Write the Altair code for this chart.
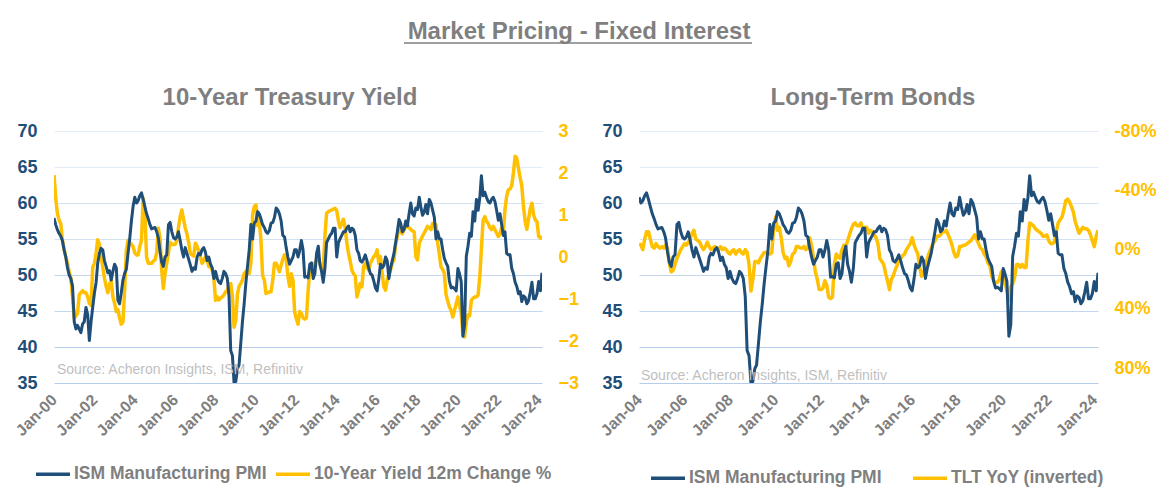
import altair as alt
import pandas as pd

# ---------------- data ----------------
ism_pmi = [
    57.9, 57.0, 56.3, 55.8, 55.4, 54.8, 53.5, 52.5, 51.0, 50.0, 49.5, 48.5,   # 2000
    43.5, 42.5, 43.0, 42.5, 42.0, 43.2, 43.5, 45.5, 44.5, 40.9, 43.5, 45.5,   # 2001
    47.5, 49.0, 51.6, 53.0, 53.7, 53.5, 52.0, 51.2, 50.3, 50.6, 49.3, 50.5,   # 2002
    51.5, 51.0, 46.5, 46.0, 47.5, 49.3, 50.2, 50.8, 53.0, 55.0, 57.5, 59.5,   # 2003
    60.8, 60.0, 60.3, 61.0, 61.4, 60.5, 59.5, 58.5, 57.8, 57.0, 56.4, 56.5,   # 2004
    56.6, 56.0, 55.2, 53.3, 51.8, 51.2, 52.5, 52.8, 57.0, 57.3, 56.0, 55.2,   # 2005
    55.0, 55.3, 56.0, 54.8, 53.5, 52.5, 53.8, 53.0, 52.2, 51.4, 50.5, 51.0,   # 2006
    50.8, 52.5, 53.0, 52.8, 53.5, 53.8, 53.2, 52.0, 52.5, 51.5, 51.0, 49.5,   # 2007
    50.5, 49.5, 49.0, 48.8, 49.5, 50.5, 50.2, 49.5, 47.0, 39.5, 38.8, 35.0,   # 2008
    35.2, 37.0, 37.5, 40.5, 43.5, 46.0, 48.8, 51.2, 53.5, 57.0, 55.0, 57.2,   # 2009
    57.5, 58.8, 58.5, 57.8, 57.0, 56.6, 56.0, 55.8, 56.2, 57.2, 57.3, 58.0,   # 2010
    59.3, 59.0, 58.5, 57.5, 55.5, 55.3, 53.8, 52.5, 51.5, 52.0, 52.5, 53.5,   # 2011
    53.5, 52.5, 53.4, 54.8, 53.5, 49.7, 49.8, 49.6, 51.5, 51.7, 49.5, 50.2,   # 2012
    53.0, 54.0, 51.5, 50.5, 49.0, 50.9, 54.5, 55.0, 55.5, 55.8, 56.5, 56.5,   # 2013
    52.5, 54.5, 55.0, 55.5, 56.0, 56.0, 56.5, 56.8, 56.0, 56.5, 56.3, 55.5,   # 2014
    53.5, 53.0, 52.0, 51.8, 52.2, 52.8, 52.0, 51.0, 50.2, 50.0, 49.2, 48.2,   # 2015
    47.8, 49.5, 51.5, 51.0, 51.3, 52.5, 52.0, 49.5, 51.0, 52.0, 53.0, 54.5,   # 2016
    56.0, 57.7, 57.2, 56.0, 56.3, 57.5, 56.8, 58.5, 60.0, 58.5, 58.2, 59.3,   # 2017
    59.1, 60.8, 59.5, 58.3, 58.7, 59.8, 58.5, 60.5, 60.0, 59.0, 58.0, 55.0,   # 2018
    56.0, 55.0, 55.0, 53.5, 52.3, 51.7, 51.2, 49.1, 48.2, 48.3, 48.1, 47.8,   # 2019
    50.9, 50.1, 49.1, 41.5, 43.1, 52.6, 54.0, 55.8, 55.4, 58.8, 57.5, 60.5,   # 2020
    59.0, 60.8, 63.8, 61.0, 61.5, 60.8, 60.2, 60.0, 60.5, 60.8, 60.2, 59.0,   # 2021
    57.6, 58.5, 57.1, 55.5, 56.0, 53.0, 52.8, 52.8, 50.9, 50.2, 49.0, 48.4,   # 2022
    47.4, 47.7, 46.3, 47.1, 46.9, 46.0, 46.4, 47.6, 49.0, 46.7, 46.7, 47.4,   # 2023
    49.1, 47.8, 50.3,                                                         # 2024
]

yield_12m_change = [
    1.95, 1.40, 1.05, 0.88, 0.80, 0.40, 0.20, 0.00, -0.15, -0.35, -0.50, -0.95,        # 2000
    -1.45, -1.40, -1.35, -0.90, -0.85, -0.80, -0.85, -0.85, -0.95, -1.10, -1.15, -0.25,  # 2001
    -0.15, 0.10, 0.41, 0.30, 0.05, -0.25, -0.50, -0.70, -0.85, -0.65, -0.55, -0.95,    # 2002
    -1.10, -1.30, -1.25, -1.45, -1.60, -1.55, -0.80, 0.15, 0.40, 0.35, 0.30, 0.25,     # 2003
    0.10, 0.05, 0.05, 0.25, 0.40, 1.40, 1.10, 0.00, -0.15, -0.15, -0.15, -0.10,        # 2004
    -0.07, 0.10, 0.69, 0.45, -0.30, -0.75, -0.40, -0.15, 0.10, 0.35, 0.30, 0.30,       # 2005
    0.30, 0.40, 0.70, 0.96, 1.12, 0.90, 0.70, 0.55, 0.35, 0.09, 0.05, 0.02,            # 2006
    0.33, 0.25, 0.15, 0.01, -0.15, -0.10, 0.00, -0.07, -0.23, -0.20, -0.31, -0.50,     # 2007
    -1.03, -0.95, -1.02, -0.98, -0.95, -0.90, -0.83, -0.79, -0.65, -0.63, -0.95, -1.67,  # 2008
    -1.50, -0.87, -0.70, -0.63, -0.55, -0.39, -0.35, -0.31, -0.39, -0.15, 1.00, 1.20,  # 2009
    1.24, 0.75, 0.88, 0.40, -0.45, -0.55, -0.87, -0.85, -0.83, -0.83, -0.55, -0.15,    # 2010
    -0.15, -0.25, -0.35, -0.20, -0.05, 0.05, -0.05, -0.45, -0.70, -0.40, -0.55, -1.30,  # 2011
    -1.47, -1.60, -1.30, -1.35, -1.45, -1.48, -1.45, -0.80, -0.30, -0.23, -0.20, -0.15,  # 2012
    -0.07, 0.01, -0.15, -0.23, -0.31, 0.50, 1.04, 1.08, 1.10, 1.12, 1.14, 1.16,        # 2013
    1.10, 0.85, 0.70, 0.80, 0.90, 0.70, 0.35, 0.09, -0.10, -0.31, -0.40, -0.45,        # 2014
    -0.95, -0.80, -0.63, -0.71, -0.23, -0.15, -0.25, -0.31, -0.15, -0.07, 0.01, 0.05,  # 2015
    0.17, -0.15, 0.01, -0.39, -0.71, -0.79, -0.55, -0.40, -0.30, -0.15, -0.07, 0.30,   # 2016
    0.49, 0.80, 0.60, 0.55, 0.65, 0.70, 0.76, 0.70, 0.65, 0.62, 0.60, 0.01,            # 2017
    -0.07, 0.33, 0.41, 0.50, 0.57, 0.65, 0.73, 0.70, 0.65, 0.80, 0.80, 0.76,           # 2018
    0.33, 0.05, -0.23, -0.30, -0.39, -0.90, -1.05, -1.19, -1.27, -1.43, -1.27, -1.11,  # 2019
    -0.95, -1.15, -1.35, -1.85, -1.90, -1.55, -1.38, -1.40, -1.03, -0.98, -0.95, -0.95,  # 2020
    -0.90, -0.45, 0.20, 0.88, 0.96, 0.85, 0.80, 0.70, 0.65, 0.73, 0.65, 0.57,          # 2021
    0.49, 0.55, 0.70, 0.57, 1.12, 1.45, 1.60, 1.62, 1.70, 2.00, 2.40, 2.35,            # 2022
    2.10, 1.88, 1.70, 1.20, 0.85, 0.66, 0.90, 1.15, 1.28, 1.00, 0.88, 0.84,            # 2023
    0.49, 0.45, 0.50,                                                                  # 2024
]

tlt_yoy_pct = [
    -4, -3, 0, -7, -12, -12, -7, -2, -1, -4, -2, -1,          # 2004
    -2, -1, -3, -1, 9, 15, 14, 10, 6, 3, 0, -2,               # 2005
    -4, -3, -5, -7, -11, -13, -7, -6, -5, -2, 0, -2,          # 2006
    -5, -2, 0, -1, -2, -1, 0, -2, 0, -1, 0, 2,                # 2007
    3, 1, 0, 3, 1, 0, 2, 3, 0, 2, 10, 28,                     # 2008
    20, 8, 8, 9, 6, 4, 2, 2, 3, 3, 2, -15,                    # 2009
    -22, -13, -15, -8, 2, 6, 5, 11, 8, 3, 2, -2,              # 2010
    -2, -1, -1, -2, 0, -1, -8, -3, 6, 15, 20, 27,             # 2011
    27, 26, 21, 24, 32, 33, 32, 10, 3, 5, 6, 0,               # 2012
    -3, -2, -6, -10, -14, -17, -18, -16, -16, -18, -14, -15,  # 2013
    -15, -11, -13, -12, -10, -8, -4, 6, 8, 10, 16, 21,        # 2014
    27, 20, 18, 14, 11, 7, 6, 4, 3, 0, -2, -4,                # 2015
    -8, -3, 0, 3, 12, 18, 16, 11, 6, 2, -1, -4,               # 2016
    -6, -9, -9, -10, -12, -12, -13, -10, -7, -3, 2, 5,        # 2017
    4, -2, -2, -3, -3, -4, -5, -6, -8, -10, -7, -4,           # 2018
    -1, 0, 3, 5, 9, 11, 18, 21, 22, 22, 20, 15,               # 2019
    14, 22, 28, 34, 25, 23, 19, 10, 10, 12, 10, 12,           # 2020
    12, -6, -18, -17, -16, -14, -13, -12, -11, -9, -9, -10,   # 2021
    -6, -4, -4, -5, -12, -18, -20, -22, -27, -33, -34, -32,   # 2022
    -29, -25, -19, -15, -11, -13, -15, -14, -14, -13, -10, -6,  # 2023
    -2, -9, -13,                                              # 2024
]

left_y_ticks = [35, 40, 45, 50, 55, 60, 65, 70]
yield_ticks = [-3, -2, -1, 0, 1, 2, 3]
tlt_ticks = [-80, -40, 0, 40, 80]
x_tick_years_left = list(range(2000, 2025, 2))
x_tick_years_right = list(range(2004, 2025, 2))

ISM = "ISM Manufacturing PMI"
YLD = "10-Year Yield 12m Change %"
TLT = "TLT YoY (inverted)"
MAIN_TITLE = "Market Pricing - Fixed Interest"
LEFT_TITLE = "10-Year Treasury Yield"
RIGHT_TITLE = "Long-Term Bonds"
SOURCE = "Source: Acheron Insights, ISM, Refinitiv"

# ---------------- styles ----------------
FONT = "Liberation Sans"
NAVY = "#1f4e79"
GOLD = "#ffc000"
GRAY = "#7f7f7f"
SRC_GRAY = "#bfbfbf"


def month_strings(start_year, n):
    out = []
    for i in range(n):
        y = start_year + i // 12
        m = i % 12 + 1
        out.append(f"{y:04d}-{m:02d}-01")
    return out


ism_df = pd.DataFrame({"date": month_strings(2000, len(ism_pmi)), "value": ism_pmi, "series": ISM})
yld_df = pd.DataFrame({"date": month_strings(2000, len(yield_12m_change)), "value": yield_12m_change, "series": YLD})
ism_right_df = ism_df[ism_df["date"] >= "2004-01-01"].reset_index(drop=True)
tlt_df = pd.DataFrame({"date": month_strings(2004, len(tlt_yoy_pct)), "value": tlt_yoy_pct, "series": TLT})

grid_color = {
    "condition": [
        {"test": "datum.value >= 65", "value": "#e3ecf6"},
        {"test": "datum.value >= 55", "value": "#d2e2f2"},
        {"test": "datum.value >= 45", "value": "#c3d8ee"},
    ],
    "value": "#b5cdea",
}


def x_enc(start_year, years):
    return alt.X(
        "date:T",
        title=None,
        scale=alt.Scale(
            type="utc",
            domain=[alt.DateTime(year=start_year, month=1, date=1, utc=True),
                    alt.DateTime(year=2024, month=3, date=1, utc=True)],
        ),
        axis=alt.Axis(
            values=[alt.DateTime(year=y, month=1, date=1, utc=True) for y in years],
            labelExpr="utcFormat(datum.value, '%b-%y')",
            labelAngle=-45, labelAlign="right", labelBaseline="middle",
            labelPadding=14, labelFlush=False, labelOverlap=False,
            labelFont=FONT, labelFontSize=16, labelFontWeight="bold", labelColor=GRAY,
            ticks=False, domain=False, grid=False,
        ),
    )


def left_axis():
    return alt.Axis(
        orient="left", values=left_y_ticks, grid=True, gridColor=grid_color, gridWidth=1,
        ticks=False, domain=False, labelPadding=17, labelFont=FONT, labelFontSize=18,
        labelFontWeight="bold", labelColor=NAVY, labelOverlap=False,
    )


def right_axis(values, label_expr):
    return alt.Axis(
        orient="right", values=values, grid=False, ticks=False, domain=False,
        labelPadding=16, labelFont=FONT, labelFontSize=18, labelFontWeight="bold",
        labelColor=GOLD, labelOverlap=False, labelExpr=label_expr,
    )


def legend(x, y, col_pad):
    return alt.Legend(
        orient="none", legendX=x, legendY=y, direction="horizontal", title=None,
        labelFont=FONT, labelFontSize=17.5, labelFontWeight="bold", labelColor=GRAY,
        symbolType="stroke", symbolSize=1156, symbolStrokeWidth=3.5,
        labelOffset=2, columnPadding=col_pad, labelLimit=400,
    )


def text_layer(txt, x, y, size, color, weight="normal", align="left", baseline="middle"):
    return alt.Chart(pd.DataFrame({"t": [txt]})).mark_text(
        font=FONT, fontSize=size, fontWeight=weight, color=color, align=align, baseline=baseline,
    ).encode(text="t:N", x=alt.value(x), y=alt.value(y))


# ---------------- left panel ----------------
LW, LH = 488, 252
color_left = alt.Color("series:N", scale=alt.Scale(domain=[ISM, YLD], range=[NAVY, GOLD]),
                       legend=legend(-20, 324, 2))

yield_line = alt.Chart(yld_df).mark_line(strokeWidth=3.5, clip=True, strokeJoin="round").encode(
    x=x_enc(2000, x_tick_years_left),
    y=alt.Y("value:Q", title=None, scale=alt.Scale(domain=[-3, 3], nice=False, zero=False),
            axis=right_axis(yield_ticks, "format(datum.value, 'd')")),
    color=color_left,
)
ism_line_left = alt.Chart(ism_df).mark_line(strokeWidth=3, clip=True, strokeJoin="round").encode(
    x=x_enc(2000, x_tick_years_left),
    y=alt.Y("value:Q", title=None, scale=alt.Scale(domain=[35, 70], nice=False, zero=False),
            axis=left_axis()),
    color=color_left,
)

main_title = text_layer(MAIN_TITLE, 525, -92, 24, GRAY, weight="bold", align="center", baseline="alphabetic")
underline = alt.Chart(pd.DataFrame({"t": [MAIN_TITLE]})).mark_rule(color=GRAY, strokeWidth=1.5).encode(
    x=alt.value(350), x2=alt.value(698), y=alt.value(-88)
)
left_title = text_layer(LEFT_TITLE, 236, -26, 24, GRAY, weight="bold", align="center", baseline="alphabetic")
src_left = text_layer(SOURCE, 3, 239, 14, SRC_GRAY)

left = alt.layer(yield_line, ism_line_left, src_left, left_title, main_title, underline).resolve_scale(
    y="independent"
).properties(width=LW, height=LH)

# ---------------- right panel ----------------
RW, RH = 459, 252
color_right = alt.Color("series:N", scale=alt.Scale(domain=[ISM, TLT], range=[NAVY, GOLD]),
                        legend=legend(10, 328, 24))

tlt_line = alt.Chart(tlt_df).mark_line(strokeWidth=3.5, clip=True, strokeJoin="round").encode(
    x=x_enc(2004, x_tick_years_right),
    y=alt.Y("value:Q", title=None,
            scale=alt.Scale(domain=[-80, 90], nice=False, zero=False, reverse=True),
            axis=right_axis(tlt_ticks, "datum.value + '%'")),
    color=color_right,
)
ism_line_right = alt.Chart(ism_right_df).mark_line(strokeWidth=3, clip=True, strokeJoin="round").encode(
    x=x_enc(2004, x_tick_years_right),
    y=alt.Y("value:Q", title=None, scale=alt.Scale(domain=[35, 70], nice=False, zero=False),
            axis=left_axis()),
    color=color_right,
)
right_title = text_layer(RIGHT_TITLE, 234, -26, 24, GRAY, weight="bold", align="center", baseline="alphabetic")
src_right = text_layer(SOURCE, 2, 245, 14, SRC_GRAY)

right = alt.layer(tlt_line, ism_line_right, src_right, right_title).resolve_scale(
    y="independent"
).properties(width=RW, height=RH)

chart = alt.hconcat(left, right, spacing=97, bounds="flush").resolve_scale(
    color="independent", x="independent", y="independent"
).properties(
    padding={"left": 12, "top": 20, "right": 0, "bottom": 0},
    background="white",
).configure_view(stroke=None)

chart.save("out.html", embed_options={"renderer": "svg", "actions": False})
